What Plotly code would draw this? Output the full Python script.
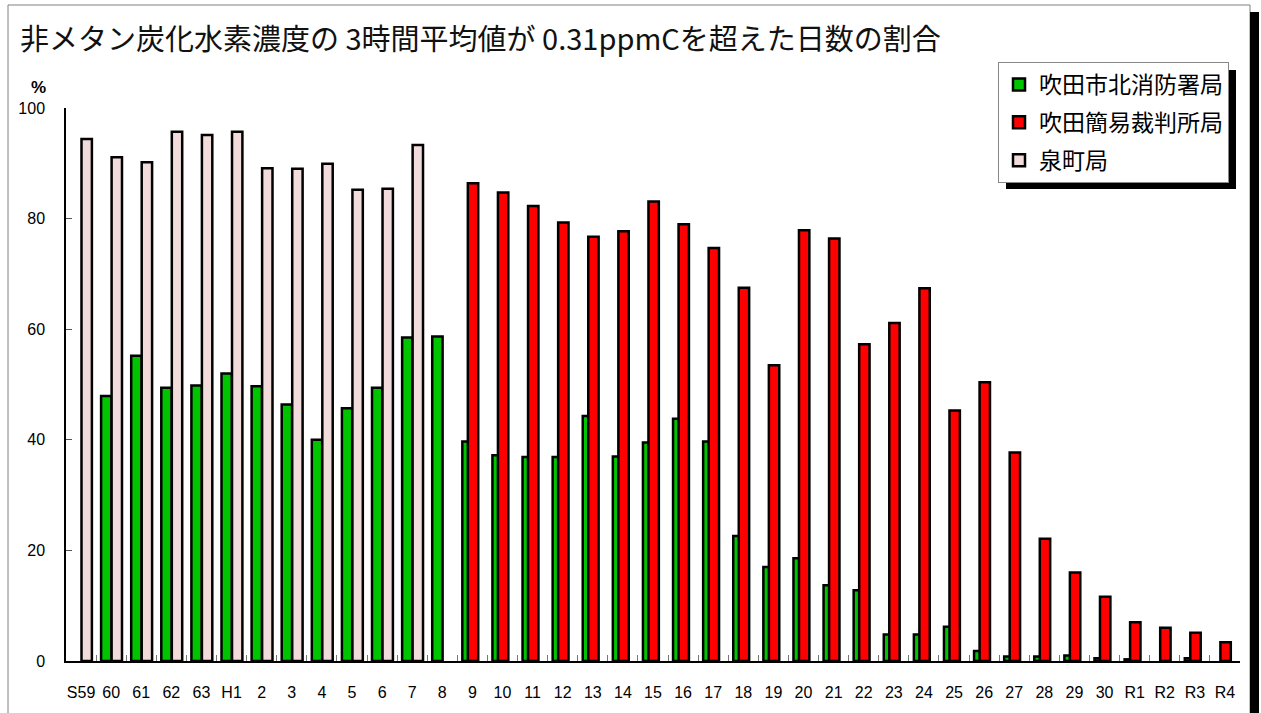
import plotly.graph_objects as go

categories = ["S59", "60", "61", "62", "63", "H1", "2", "3", "4", "5", "6", "7", "8",
              "9", "10", "11", "12", "13", "14", "15", "16", "17", "18", "19", "20",
              "21", "22", "23", "24", "25", "26", "27", "28", "29", "30",
              "R1", "R2", "R3", "R4"]

suita_kita = [None, 47.9, 55.2, 49.4, 49.8, 52.0, 49.7, 46.4, 40.0, 45.7, 49.4, 58.5, 58.7,
              39.7, 37.2, 36.9, 36.9, 44.3, 37.0, 39.5, 43.8, 39.7, 22.6, 17.0, 18.6,
              13.7, 12.8, 4.8, 4.8, 6.2, 1.8, 0.8, 0.8, 1.0, 0.5,
              0.3, None, 0.5, None]

suita_kanni = [None] * 13 + [86.4, 84.7, 82.3, 79.3, 76.7, 77.7, 83.1, 79.0, 74.7, 67.5, 53.5, 77.9,
                             76.4, 57.3, 61.1, 67.4, 45.3, 50.4, 37.7, 22.1, 16.0, 11.6,
                             7.0, 6.0, 5.1, 3.4]

izumicho = [94.4, 91.1, 90.2, 95.7, 95.1, 95.7, 89.1, 89.0, 89.9, 85.2, 85.4, 93.3] + [None] * 27

series_names = ["吹田市北消防署局", "吹田簡易裁判所局", "泉町局"]
series_colors = ["#00c400", "#ff0000", "#f2dcdb"]
series_offsets = [-0.334, -0.151, 0.015]
bar_width = 0.345

fig = go.Figure()
for name, vals, col, off in zip(series_names, [suita_kita, suita_kanni, izumicho],
                                series_colors, series_offsets):
    fig.add_trace(go.Bar(
        x=categories, y=vals, name=name,
        marker=dict(color=col, line=dict(color="black", width=2.5)),
        width=bar_width, offset=off, legendgroup=name,
    ))

W, H = 1261, 713
L, R, T, B = 66, 21, 108, 52
pw, ph = W - L - R, H - T - B


def px(x):
    return (x - L) / pw


def py(y):
    return (H - B - y) / ph


shapes = [
    # outer chart border
    dict(type="rect", xref="paper", yref="paper", x0=px(8), x1=px(1250), y0=py(730), y1=py(5),
         line=dict(color="#808080", width=1), layer="below"),
    # right shadow of chart frame
    dict(type="rect", xref="paper", yref="paper", x0=px(1250), x1=px(1259), y0=py(730), y1=py(12),
         fillcolor="black", line=dict(width=0), layer="below"),
    # legend shadow
    dict(type="rect", xref="paper", yref="paper", x0=px(1006), x1=px(1236), y0=py(189), y1=py(70),
         fillcolor="black", line=dict(width=0), layer="below"),
]

fig.update_layout(
    width=W, height=H,
    margin=dict(l=L, r=R, t=T, b=B),
    paper_bgcolor="white", plot_bgcolor="white",
    barmode="overlay",
    font=dict(family="Liberation Sans Narrow, Arial Narrow, Liberation Sans, Noto Sans CJK JP", color="black"),
    title=dict(text="非メタン炭化水素濃度の 3時間平均値が 0.31ppmCを超えた日数の割合",
               x=20 / W, xanchor="left", y=1 - 40 / H, yanchor="middle",
               font=dict(family="Noto Sans CJK JP", size=29, color="#111111")),
    xaxis=dict(type="category", range=[-0.5, len(categories) - 0.5],
               showline=True, linecolor="black", linewidth=1.5,
               ticks="inside", tickson="boundaries", ticklen=6, tickcolor="#777777",
               tickangle=0, ticklabelstandoff=16,
               tickfont=dict(size=16), showgrid=False, zeroline=False, fixedrange=True),
    yaxis=dict(range=[0, 100], dtick=20, showline=True, linecolor="black", linewidth=1.5,
               ticks="inside", ticklen=6, tickcolor="#555555", ticklabelstandoff=16,
               tickfont=dict(size=16), showgrid=False, zeroline=False, fixedrange=True),
    legend=dict(x=px(998), y=py(62), xanchor="left", yanchor="top",
                bgcolor="white", bordercolor="#888888", borderwidth=1,
                font=dict(family="Noto Sans CJK JP", size=23, color="black"),
                tracegroupgap=5, traceorder="grouped",
                itemwidth=30),
    shapes=shapes,
    annotations=[dict(text="<b>%</b>", xref="paper", yref="paper", x=px(38), y=py(87),
                      xanchor="center", yanchor="middle", showarrow=False,
                      font=dict(family="Liberation Sans, Arial", size=17, color="black"))],
)

fig.write_html("out.html", config={"displayModeBar": False},
               post_script="document.body.style.margin='0px';document.body.style.overflow='hidden';")
